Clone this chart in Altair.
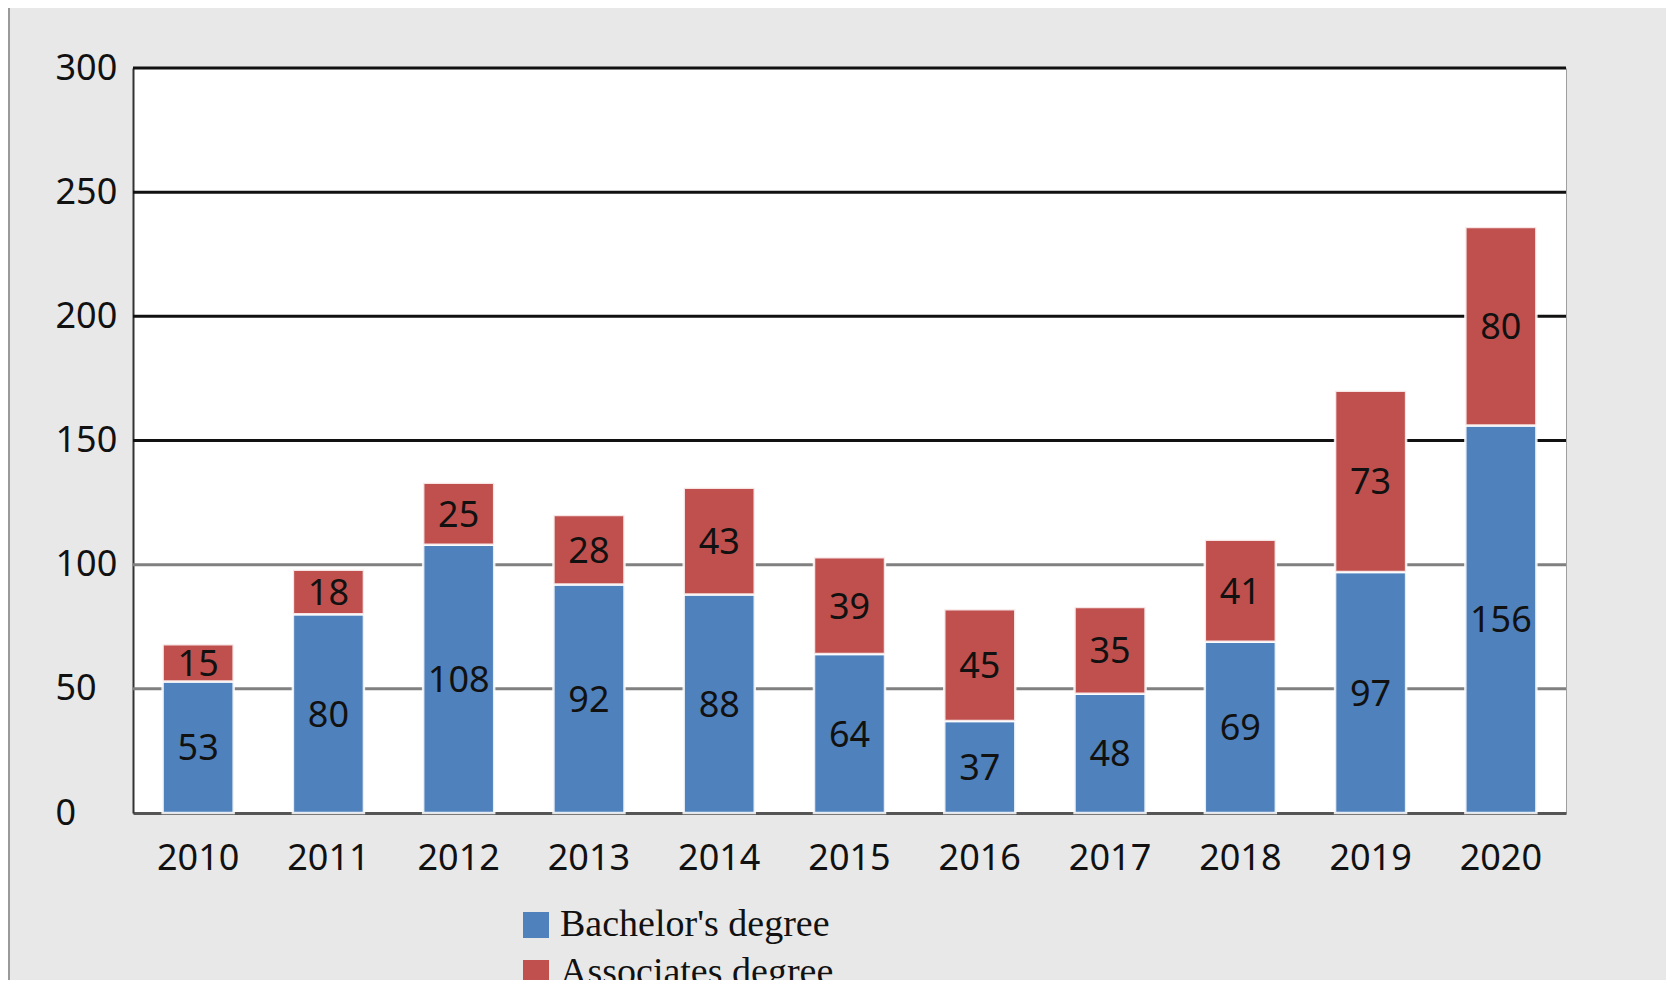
import altair as alt
import pandas as pd

years = ["2010", "2011", "2012", "2013", "2014", "2015", "2016", "2017", "2018", "2019", "2020"]
bachelors = [53, 80, 108, 92, 88, 64, 37, 48, 69, 97, 156]
associates = [15, 18, 25, 28, 43, 39, 45, 35, 41, 73, 80]
series_names = ["Bachelor's degree", "Associates degree"]
series_colors = ["#4F81BD", "#C0504D"]
grid_values = [50, 100, 150, 200, 250, 300]
grid_colors = ["#808080", "#808080", "#111111", "#111111", "#111111", "#111111"]
y_ticks = [0, 50, 100, 150, 200, 250, 300]

rows = []
for i, y in enumerate(years):
    rows.append({"year": y, "series": series_names[0], "ord": 0, "value": bachelors[i]})
    rows.append({"year": y, "series": series_names[1], "ord": 1, "value": associates[i]})
df = pd.DataFrame(rows)
grid_df = pd.DataFrame({"v": grid_values, "c": grid_colors})

W, H = 1433, 745
xscale = alt.Scale(domain=years, paddingInner=0.455, paddingOuter=0.2275)
yscale = alt.Scale(domain=[0, 300], nice=False)

y_axis = alt.Axis(title=None, values=y_ticks, grid=False, ticks=False,
                  domain=True, domainColor="#333333", domainWidth=2,
                  labelFont="Noto Sans", labelFontSize=36, labelColor="#111111",
                  labelAlign="left", labelPadding=78, labelBaseline="middle")

grid = alt.Chart(grid_df).mark_rule(strokeWidth=3).encode(
    y=alt.Y("v:Q", scale=yscale, axis=y_axis),
    color=alt.Color("c:N", scale=None),
)

base = alt.Chart(df).transform_stack(
    stack="value", groupby=["year"], as_=["v0", "v1"], sort=[alt.SortField("ord", order="ascending")]
).transform_calculate(mid="(datum.v0 + datum.v1) / 2")

bars = base.mark_bar(stroke="white", strokeWidth=2.5, strokeOpacity=0.85).encode(
    x=alt.X("year:N", scale=xscale, sort=years,
            axis=alt.Axis(title=None, labelAngle=0, ticks=False, domain=True,
                          domainColor="#555555", domainWidth=3,
                          labelFont="Noto Sans", labelFontSize=36, labelColor="#111111",
                          labelPadding=28)),
    y=alt.Y("v0:Q", scale=yscale, axis=y_axis),
    y2="v1:Q",
    color=alt.Color("series:N", scale=alt.Scale(domain=series_names, range=series_colors),
                    legend=alt.Legend(title=None, orient="none", legendX=384, legendY=838,
                                      symbolType="square", symbolSize=676, symbolStrokeWidth=0,
                                      labelFont="Liberation Serif", labelFontSize=38,
                                      labelLimit=600,
                                      labelColor="#111111", labelOffset=5, rowPadding=10)),
)

labels = base.mark_text(font="Noto Sans", fontSize=36, color="#111111",
                        align="center", baseline="middle", dy=2).encode(
    x=alt.X("year:N", scale=xscale, sort=years),
    y=alt.Y("mid:Q", scale=yscale, axis=y_axis),
    text="value:Q",
)

frame = alt.Chart(pd.DataFrame({"k": [0]})).mark_rule(color="#9a9a9a", strokeWidth=2).encode(
    x=alt.value(-124), y=alt.value(-60), y2=alt.value(912)
)

chart = alt.layer(grid, bars, labels, frame).resolve_scale(color="independent").properties(
    width=W, height=H,
    autosize=alt.AutoSizeParams(type="none"),
    padding={"left": 125, "top": 60, "right": 100, "bottom": 167},
    background="#e8e8e8",
).configure_view(stroke="#a0a0a0", strokeWidth=1, fill="white")

chart.save("out.html", embed_options={"renderer": "svg", "actions": False})
